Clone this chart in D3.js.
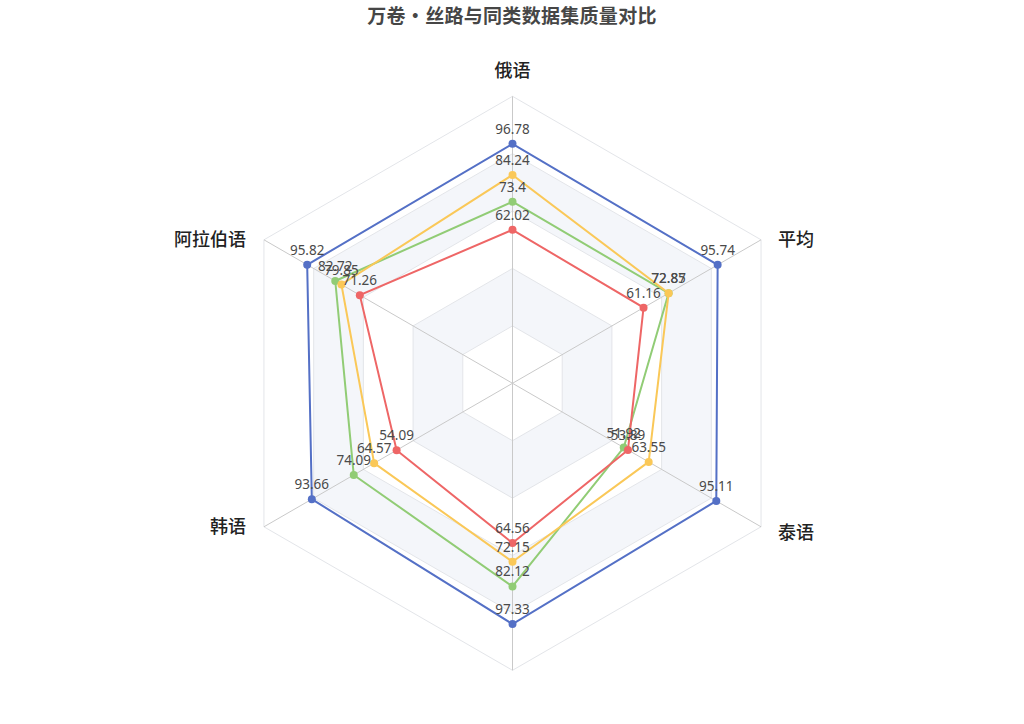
<!DOCTYPE html>
<html>
<head>
<meta charset="utf-8">
<script src="https://cdn.jsdelivr.net/npm/d3@7/dist/d3.min.js"></script>
<style>
  html, body { margin: 0; padding: 0; background: #ffffff; }
  svg { display: block; }
</style>
</head>
<body>
<svg id="chart" width="1024" height="724"></svg>
<script>
// ---- data ----
const titleText = "万卷·丝路与同类数据集质量对比";
const categories = ["俄语", "阿拉伯语", "韩语", "", "泰语", "平均"];
const seriesNames = ["万卷·丝路", "数据集B", "数据集C", "数据集D"];
const seriesColors = ["#5470c6", "#91cc75", "#fac858", "#ee6666"];
const blueValues   = [96.78, 95.82, 93.66, 97.33, 95.11, 95.74];
const greenValues  = [73.4, 82.72, 74.09, 82.12, 51.92, 72.85];
const yellowValues = [84.24, 79.85, 64.57, 72.15, 63.55, 72.87];
const redValues    = [62.02, 71.26, 54.09, 64.56, 53.89, 61.16];
const radarMax = 116;
const splitNumber = 5;

const seriesList = [blueValues, greenValues, yellowValues, redValues].map((v, i) => ({
  name: seriesNames[i], color: seriesColors[i], values: v
}));

// ---- layout ----
const svg = d3.select("#chart");
const cx = 512.5, cy = 383.3, R = 287;
const n = categories.length;
const rScale = d3.scaleLinear().domain([0, radarMax]).range([0, R]);
const angle = i => -i * 2 * Math.PI / n; // counter-clockwise from top
const px = (i, r) => cx + r * Math.sin(angle(i));
const py = (i, r) => cy - r * Math.cos(angle(i));

svg.append("rect").attr("width", 1024).attr("height", 724).attr("fill", "#ffffff");

// title
svg.append("text")
  .attr("x", 512).attr("y", 23)
  .attr("text-anchor", "middle")
  .attr("font-family", "'Noto Sans CJK SC', 'Noto Sans', sans-serif")
  .attr("font-size", 19).attr("font-weight", "bold")
  .attr("letter-spacing", 0.3)
  .attr("fill", "#464646")
  .text(titleText);

const g = svg.append("g");
const ringLine = d3.lineRadial()
  .angle((d, i) => angle(i))
  .radius(d => d)
  .curve(d3.curveLinearClosed);

// split areas (outer to inner)
const ringValues = d3.range(splitNumber, 0, -1).map(k => radarMax * k / splitNumber);
ringValues.forEach((v, idx) => {
  const k = splitNumber - idx; // 5..1
  g.append("path")
    .attr("transform", `translate(${cx},${cy})`)
    .attr("d", ringLine(d3.range(n).map(() => rScale(v))))
    .attr("fill", k % 2 === 0 ? "#f4f6fa" : "#ffffff")
    .attr("stroke", "none");
});
// split lines
ringValues.forEach(v => {
  g.append("path")
    .attr("transform", `translate(${cx},${cy})`)
    .attr("d", ringLine(d3.range(n).map(() => rScale(v))))
    .attr("fill", "none")
    .attr("stroke", "#e3e5e9")
    .attr("stroke-width", 1);
});
// axis lines
d3.range(n).forEach(i => {
  g.append("line")
    .attr("x1", cx).attr("y1", cy)
    .attr("x2", px(i, R)).attr("y2", py(i, R))
    .attr("stroke", "#c9c9c9").attr("stroke-width", 1);
});

// axis names
categories.forEach((c, i) => {
  if (!c) return;
  const vx = px(i, R), vy = py(i, R);
  const s = Math.sin(angle(i));
  const cs = Math.cos(angle(i));
  let x = vx, y = vy, anchor = "middle";
  if (Math.abs(s) < 0.01) { y = vy - 15 - 4; }
  else if (s > 0) { anchor = "start"; x = vx + 17; y = vy + 6 + (cs < 0 ? 6 : 0); }
  else { anchor = "end"; x = vx - 18; y = vy + 6; }
  g.append("text")
    .attr("x", x).attr("y", y)
    .attr("text-anchor", anchor)
    .attr("font-family", "'Noto Sans CJK SC', 'Noto Sans', sans-serif")
    .attr("font-size", 18)
    .attr("font-weight", 500)
    .attr("fill", "#222222")
    .text(c);
});

// series
const seriesLine = d3.lineRadial()
  .angle((d, i) => angle(i))
  .radius(d => rScale(d))
  .curve(d3.curveLinearClosed);

seriesList.forEach(s => {
  const sg = g.append("g");
  sg.append("path")
    .attr("transform", `translate(${cx},${cy})`)
    .attr("d", seriesLine(s.values))
    .attr("fill", "none")
    .attr("stroke", s.color)
    .attr("stroke-width", 2);
  sg.selectAll("circle").data(s.values).join("circle")
    .attr("cx", (d, i) => px(i, rScale(d)))
    .attr("cy", (d, i) => py(i, rScale(d)))
    .attr("r", 4)
    .attr("fill", s.color);
});
seriesList.forEach(s => {
  g.append("g").selectAll("text").data(s.values).join("text")
    .attr("x", (d, i) => px(i, rScale(d)))
    .attr("y", (d, i) => py(i, rScale(d)) - 10)
    .attr("text-anchor", "middle")
    .attr("font-family", "'Noto Sans', sans-serif")
    .attr("font-size", 13.5)
    .attr("fill", "#4a4a4a")
    .text(d => d);
});
</script>
</body>
</html>
